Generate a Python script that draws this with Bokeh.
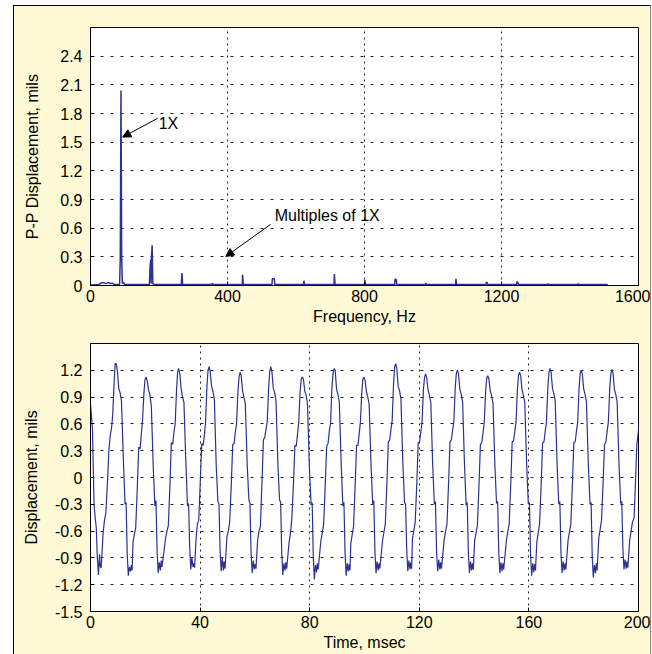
from bokeh.plotting import figure
from bokeh.layouts import column
from bokeh.models import (FixedTicker, Label, Arrow, NormalHead,
                          Range1d, CustomJSTickFormatter)
from bokeh.embed import file_html
from bokeh.resources import INLINE

# ---------------- data ----------------
# Spectrum (frequency in Hz, peak-to-peak displacement in mils)
spec_freq = [0, 25, 30, 38, 45, 52, 58, 64, 70, 85, 87, 89, 91, 93, 97, 100,
             172, 174, 176, 177, 178, 180, 182, 185,
             265, 267, 269, 355, 356, 358, 443, 444, 446,
             530, 531, 537, 538, 622, 623, 625, 711, 712, 714,
             800, 801, 803, 888, 889, 893, 894, 978, 979, 981,
             1066, 1067, 1069, 1155, 1156, 1158, 1160,
             1244, 1245, 1248, 1250, 1334, 1335, 1337, 1423, 1424, 1426, 1510]
spec_amp = [0.005, 0.01, 0.025, 0.03, 0.02, 0.03, 0.02, 0.025, 0.01, 0.01, 0.3, 2.04, 0.3, 0.02, 0.03, 0.01,
            0.01, 0.2, 0.27, 0.02, 0.3, 0.42, 0.02, 0.01,
            0.01, 0.13, 0.01, 0.01, 0.025, 0.01, 0.01, 0.115, 0.01,
            0.01, 0.07, 0.07, 0.01, 0.01, 0.05, 0.01, 0.01, 0.12, 0.01,
            0.01, 0.06, 0.01, 0.01, 0.065, 0.06, 0.01, 0.01, 0.025, 0.01,
            0.01, 0.07, 0.01, 0.01, 0.035, 0.03, 0.01,
            0.01, 0.04, 0.03, 0.01, 0.01, 0.02, 0.01, 0.01, 0.02, 0.01, 0.01]

# Time waveform: each cycle is sampled at fixed offsets (msec) around its peak
peak_times = [-1.9, 9.4, 20.3, 32.2, 43.3, 54.6, 65.8, 77.3, 88.9, 99.8, 111.4,
              122.3, 133.9, 145.0, 156.6, 167.7, 179.1, 190.3, 201.6]
phase_offsets = [-4.8, -4.3, -3.8, -3.2, -2.7, -2.2, -1.7, -1.3, -0.8, -0.4, 0.0, 0.4,
                 0.9, 1.4, 1.9, 2.6, 3.2, 3.6, 4.0, 4.4, 4.8, 5.2, 5.5, 5.8]
cycle_values = [
    [-0.70, -0.62, -0.52, -0.05, 0.33, 0.40, 0.55, 0.62, 1.00, 1.15, 1.20, 1.10, 0.90, 0.85, 0.82, 0.55, -0.30, -0.45, -0.56, -0.90, -1.09, -0.86, -1.00, -1.01],
    [-0.62, -0.48, -0.40, -0.05, 0.30, 0.47, 0.56, 0.70, 1.05, 1.275, 1.275, 1.20, 1.00, 0.95, 0.86, 0.20, -0.30, -0.28, -0.86, -1.10, -1.00, -1.05, -0.98, -1.04],
    [-0.73, -0.64, -0.56, -0.10, 0.34, 0.32, 0.50, 0.64, 0.95, 1.10, 1.125, 1.08, 0.98, 0.92, 0.80, 0.12, -0.32, -0.26, -0.82, -1.07, -0.95, -1.04, -0.93, -1.00],
    [-0.68, -0.60, -0.54, -0.08, 0.39, 0.37, 0.52, 0.60, 0.98, 1.18, 1.22, 1.16, 0.99, 0.90, 0.84, 0.18, -0.32, -0.29, -0.78, -1.03, -0.90, -1.00, -0.96, -1.01],
    [-0.70, -0.52, -0.48, -0.02, 0.38, 0.36, 0.48, 0.62, 1.02, 1.20, 1.24, 1.18, 1.02, 0.96, 0.88, 0.12, -0.27, -0.30, -0.82, -1.05, -0.90, -1.04, -0.94, -1.02],
    [-0.66, -0.60, -0.50, -0.06, 0.37, 0.38, 0.52, 0.60, 0.96, 1.12, 1.18, 1.14, 0.97, 0.90, 0.83, 0.14, -0.25, -0.29, -0.84, -1.07, -0.93, -1.03, -0.97, -1.02],
    [-0.70, -0.60, -0.55, -0.04, 0.42, 0.45, 0.55, 0.62, 1.00, 1.18, 1.24, 1.19, 1.00, 0.95, 0.86, 0.14, -0.25, -0.28, -0.85, -1.09, -0.96, -1.04, -0.95, -1.02],
    [-0.72, -0.62, -0.45, -0.05, 0.36, 0.35, 0.50, 0.62, 0.96, 1.10, 1.125, 1.10, 0.97, 0.92, 0.82, 0.10, -0.30, -0.28, -0.88, -1.14, -0.98, -1.06, -0.96, -1.03],
    [-0.70, -0.62, -0.52, -0.06, 0.35, 0.38, 0.53, 0.60, 1.00, 1.16, 1.22, 1.20, 0.99, 0.93, 0.85, 0.15, -0.32, -0.28, -0.84, -1.10, -0.96, -1.05, -0.97, -1.04],
    [-0.74, -0.64, -0.55, -0.08, 0.36, 0.36, 0.50, 0.62, 0.95, 1.10, 1.125, 1.09, 0.96, 0.90, 0.82, 0.12, -0.30, -0.26, -0.82, -1.07, -0.94, -1.04, -0.96, -1.02],
    [-0.70, -0.61, -0.52, -0.04, 0.40, 0.42, 0.55, 0.64, 1.05, 1.24, 1.275, 1.22, 1.02, 0.97, 0.88, 0.16, -0.28, -0.30, -0.80, -1.05, -0.93, -1.03, -0.95, -1.02],
    [-0.68, -0.60, -0.50, -0.06, 0.39, 0.40, 0.52, 0.62, 0.98, 1.12, 1.16, 1.12, 0.98, 0.92, 0.84, 0.13, -0.30, -0.27, -0.83, -1.05, -0.92, -1.03, -0.95, -1.02],
    [-0.69, -0.60, -0.52, -0.05, 0.40, 0.42, 0.54, 0.62, 1.00, 1.16, 1.20, 1.16, 0.99, 0.93, 0.85, 0.14, -0.31, -0.28, -0.84, -1.07, -0.94, -1.04, -0.96, -1.03],
    [-0.71, -0.62, -0.54, -0.07, 0.37, 0.39, 0.51, 0.61, 0.96, 1.11, 1.14, 1.10, 0.97, 0.91, 0.83, 0.12, -0.29, -0.27, -0.84, -1.07, -0.95, -1.05, -0.96, -1.03],
    [-0.70, -0.61, -0.52, -0.05, 0.40, 0.41, 0.53, 0.62, 0.98, 1.14, 1.18, 1.14, 0.98, 0.92, 0.84, 0.13, -0.30, -0.28, -0.86, -1.10, -0.96, -1.06, -0.97, -1.04],
    [-0.72, -0.62, -0.52, -0.06, 0.39, 0.40, 0.53, 0.62, 1.00, 1.17, 1.22, 1.18, 1.00, 0.94, 0.86, 0.14, -0.30, -0.27, -0.84, -1.07, -0.94, -1.04, -0.96, -1.03],
    [-0.70, -0.61, -0.52, -0.05, 0.39, 0.40, 0.53, 0.62, 0.99, 1.16, 1.20, 1.16, 0.99, 0.93, 0.85, 0.14, -0.30, -0.28, -0.87, -1.12, -0.98, -1.07, -0.96, -1.04],
    [-0.68, -0.58, -0.48, -0.04, 0.37, 0.40, 0.53, 0.62, 1.00, 1.16, 1.21, 1.17, 0.99, 0.93, 0.85, 0.14, -0.29, -0.27, -0.80, -1.03, -0.92, -1.02, -0.94, -1.01],
    [-0.70, -0.60, -0.50, -0.45, -0.05, 0.375, 0.50, 0.62, 1.00, 1.15, 1.20, 1.15, 1.00, 0.94, 0.85, 0.14, -0.30, -0.28, -0.84, -1.06, -0.94, -1.04, -0.96, -1.02],
]

freq_ticks = [0, 400, 800, 1200, 1600]
amp_ticks = [0, 0.3, 0.6, 0.9, 1.2, 1.5, 1.8, 2.1, 2.4]
time_ticks = [0, 40, 80, 120, 160, 200]
disp_ticks = [-1.5, -1.2, -0.9, -0.6, -0.3, 0, 0.3, 0.6, 0.9, 1.2]

# build time table from the cycle arrays
time_ms = []
disp_mils = []
for tp, vals in zip(peak_times, cycle_values):
    for off, v in zip(phase_offsets, vals):
        time_ms.append(round(tp + off, 2))
        disp_mils.append(v)

# ---------------- style ----------------
BG = "#FFF9D5"
LINE = "#2D3192"
FONT = "Liberation Sans"
FMT = CustomJSTickFormatter(code="return String(Number(tick.toFixed(2)));")


def make_fig(xr, yr, xt, yt, xlabel, ylabel, height, mb_top, mb_bottom, ylab_standoff):
    p = figure(width=636, height=height, x_range=Range1d(*xr), y_range=Range1d(*yr),
               output_backend="svg", toolbar_location=None,
               min_border_left=76, min_border_right=12,
               min_border_top=mb_top, min_border_bottom=mb_bottom)
    p.background_fill_color = "white"
    p.border_fill_color = BG
    p.outline_line_color = "black"
    p.outline_line_width = 1

    p.xaxis.ticker = FixedTicker(ticks=xt)
    p.yaxis.ticker = FixedTicker(ticks=yt)
    p.yaxis.formatter = FMT
    for ax in (p.xaxis[0], p.yaxis[0]):
        ax.major_tick_in = 4
        ax.major_tick_out = 0
        ax.minor_tick_in = 0
        ax.minor_tick_out = 0
        ax.axis_line_color = "black"
        ax.major_tick_line_color = "black"
        ax.major_label_text_font = FONT
        ax.major_label_text_font_size = "16px"
        ax.major_label_text_color = "black"
        ax.axis_label_text_font = FONT
        ax.axis_label_text_font_size = "16px"
        ax.axis_label_text_font_style = "normal"
        ax.axis_label_text_color = "black"
    p.xaxis.axis_label = xlabel
    p.yaxis.axis_label = ylabel
    p.xaxis.major_label_standoff = 4
    p.xaxis.axis_label_standoff = 3
    p.yaxis.major_label_standoff = 8
    p.yaxis.axis_label_standoff = ylab_standoff

    p.xgrid.ticker = FixedTicker(ticks=xt)
    p.ygrid.ticker = FixedTicker(ticks=yt)
    p.xgrid.grid_line_color = "#222222"
    p.xgrid.grid_line_dash = "2 4"
    p.ygrid.grid_line_color = "#222222"
    p.ygrid.grid_line_dash = "3 7"
    return p


p1 = make_fig((0, 1600), (0, 2.7), freq_ticks, amp_ticks, "Frequency, Hz",
              "P-P Displacement, mils", 327, 21, 48, 16)
p1.line(spec_freq, spec_amp, line_color=LINE, line_width=1.5)

p1.add_layout(Arrow(end=NormalHead(size=8, fill_color="black", line_color="black"),
                    x_start=196, y_start=1.75, x_end=94, y_end=1.553,
                    line_color="black", line_width=1))
p1.add_layout(Label(x=199, y=1.70, text="1X", text_baseline="middle",
                    text_font=FONT, text_font_size="16px", text_color="black"))
p1.add_layout(Arrow(end=NormalHead(size=8, fill_color="black", line_color="black"),
                    x_start=526, y_start=0.64, x_end=395, y_end=0.304,
                    line_color="black", line_width=1))
p1.add_layout(Label(x=538, y=0.734, text="Multiples of 1X", text_baseline="middle",
                    text_font=FONT, text_font_size="16px", text_color="black"))

p2 = make_fig((0, 200), (-1.5, 1.5), time_ticks, disp_ticks, "Time, msec",
              "Displacement, mils", 321, 10, 43, 12)
p2.line(time_ms, disp_mils, line_color=LINE, line_width=1.2)

layout = column(p1, p2, spacing=0, margin=(5, 0, 0, 13),
                styles={"border-left": "1px solid #000000",
                        "border-top": "1px solid #000000",
                        "border-right": "1px solid #808080",
                        "background-color": BG})

open("out.html", "w").write(file_html(layout, INLINE))
